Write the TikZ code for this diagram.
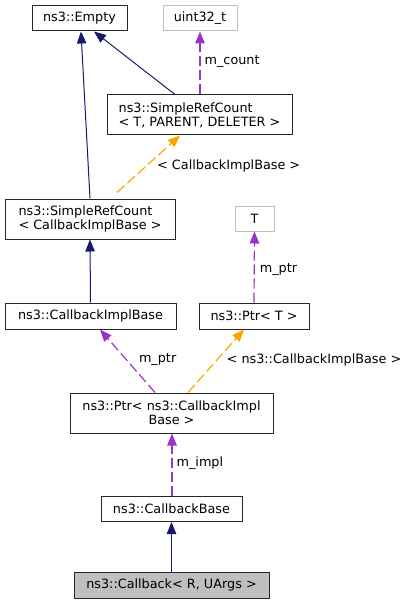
\documentclass[tikz,border=0pt]{standalone}
\usepackage{fontspec}
\setmainfont{DejaVu Sans}
\usetikzlibrary{arrows.meta}
\definecolor{edgeblue}{RGB}{25,25,112}
\definecolor{edgeorchid}{RGB}{154,50,205}
\definecolor{edgeorange}{RGB}{255,165,0}
\definecolor{boxgrey}{RGB}{191,191,191}

\begin{document}
\begin{tikzpicture}[x=1pt, y=-1pt,
    font=\fontsize{12.8}{14}\selectfont,
    cls/.style={draw=black!85, line width=1pt, inner sep=0pt, align=center},
    ext/.style={cls, draw=boxgrey},
    inh/.style={color=edgeblue, line width=1pt, -{Triangle[length=12pt, width=9.5pt]}},
    usage/.style={color=edgeorchid, line width=1.2pt, dash pattern=on 10pt off 4pt,
        -{Triangle[length=12pt, width=9.5pt]}},
    tmpl/.style={color=edgeorange, line width=1.2pt, dash pattern=on 10pt off 4pt,
        -{Triangle[length=12pt, width=9.5pt]}},
    lbl/.style={anchor=west, inner sep=0pt, text=black}]
    \useasboundingbox (0,0) rectangle (409,604);
    % classes, top to bottom
    \node[cls, minimum width=95pt, minimum height=25pt] (empty) at (79.5,18.5) {ns3::Empty};
    \node[ext, minimum width=74pt, minimum height=25pt] (uint) at (200,18.5) {uint32\_t};
    \node[cls, minimum width=185pt, minimum height=40pt, align=left] (srct) at (199.5,115)
        {ns3::SimpleRefCount\\< T, PARENT, DELETER >};
    \node[cls, minimum width=170pt, minimum height=40pt, align=left] (srccib) at (90,219)
        {ns3::SimpleRefCount\\< CallbackImplBase >};
    \node[ext, minimum width=39pt, minimum height=25pt] (tparam) at (254.5,218.5) {T};
    \node[cls, minimum width=171pt, minimum height=26pt] (cib) at (90.5,316) {ns3::CallbackImplBase};
    \node[cls, minimum width=110pt, minimum height=26pt] (ptrt) at (254,316) {ns3::Ptr< T >};
    \node[cls, minimum width=203pt, minimum height=40pt] (ptrcib) at (171.5,413)
        {ns3::Ptr< ns3::CallbackImpl\\Base >};
    \node[cls, minimum width=141pt, minimum height=25pt] (cbase) at (171.5,509) {ns3::CallbackBase};
    \node[cls, fill=boxgrey, minimum width=195pt, minimum height=26pt] (cb) at (171.5,585)
        {ns3::Callback< R, UArgs >};
    % relations
    \draw[inh] (srccib.north) -- ([xshift=1.5pt]empty.south);
    \draw[inh] ([xshift=-24.5pt]srct.north) -- ([xshift=14.5pt]empty.south);
    \draw[usage] ([xshift=0.5pt]srct.north) -- (uint.south) node[lbl, pos=0.52, xshift=4pt] {m\_count};
    \draw[tmpl] ([xshift=27pt, yshift=6pt]srccib.north) -- ([xshift=-19.5pt]srct.south)
        node[lbl, pos=0.47, xshift=10pt] {< CallbackImplBase >};
    \draw[inh] (cib.north) -- (srccib.south);
    \draw[usage] (ptrt.north) -- (tparam.south) node[lbl, pos=0.46, xshift=5pt] {m\_ptr};
    \draw[usage] ([xshift=-16.5pt]ptrcib.north) -- ([xshift=9.5pt]cib.south)
        node[lbl, pos=0.52, xshift=12pt] {m\_ptr};
    \draw[tmpl] ([xshift=16.5pt]ptrcib.north) -- ([xshift=-10pt]ptrt.south)
        node[lbl, pos=0.52, xshift=9pt] {< ns3::CallbackImplBase >};
    \draw[usage] ([xshift=0.5pt]cbase.north) -- ([xshift=0.5pt]ptrcib.south)
        node[lbl, pos=0.53, xshift=4pt] {m\_impl};
    \draw[inh] (cb.north) -- (cbase.south);
\end{tikzpicture}
\end{document}
